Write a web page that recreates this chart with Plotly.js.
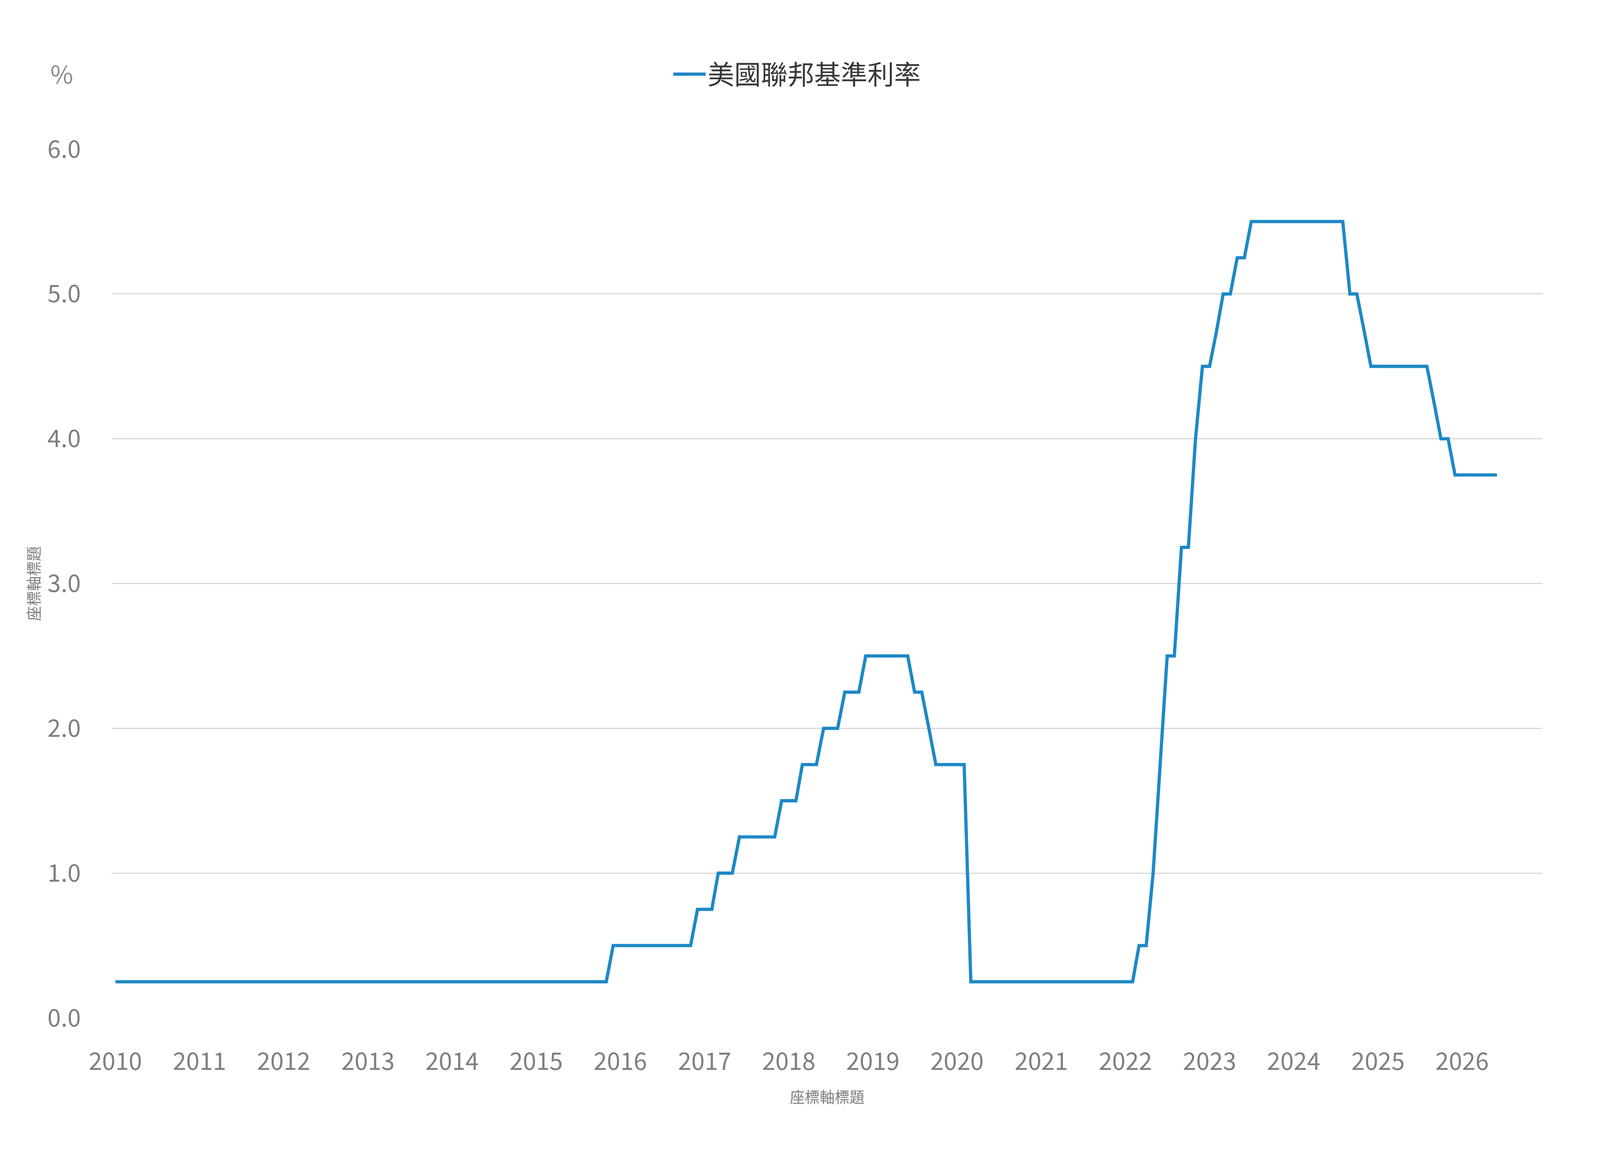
<!DOCTYPE html>
<html>
<head>
<meta charset="utf-8">
<script src="https://cdn.plot.ly/plotly-3.0.1.min.js"></script>
<style>html,body{margin:0;padding:0;background:#fff;overflow:hidden;width:100%;height:100%;}#chart{position:absolute;left:0;top:0;}</style>
</head>
<body>
<div id="chart"></div>
<script>
// Monthly end-of-month upper bound of the US federal funds target rate (%), Jan..Dec
const rate2010 = [0.25,0.25,0.25,0.25,0.25,0.25,0.25,0.25,0.25,0.25,0.25,0.25];
const rate2011 = [0.25,0.25,0.25,0.25,0.25,0.25,0.25,0.25,0.25,0.25,0.25,0.25];
const rate2012 = [0.25,0.25,0.25,0.25,0.25,0.25,0.25,0.25,0.25,0.25,0.25,0.25];
const rate2013 = [0.25,0.25,0.25,0.25,0.25,0.25,0.25,0.25,0.25,0.25,0.25,0.25];
const rate2014 = [0.25,0.25,0.25,0.25,0.25,0.25,0.25,0.25,0.25,0.25,0.25,0.25];
const rate2015 = [0.25,0.25,0.25,0.25,0.25,0.25,0.25,0.25,0.25,0.25,0.25,0.5];
const rate2016 = [0.5,0.5,0.5,0.5,0.5,0.5,0.5,0.5,0.5,0.5,0.5,0.75];
const rate2017 = [0.75,0.75,1.0,1.0,1.0,1.25,1.25,1.25,1.25,1.25,1.25,1.5];
const rate2018 = [1.5,1.5,1.75,1.75,1.75,2.0,2.0,2.0,2.25,2.25,2.25,2.5];
const rate2019 = [2.5,2.5,2.5,2.5,2.5,2.5,2.25,2.25,2.0,1.75,1.75,1.75];
const rate2020 = [1.75,1.75,0.25,0.25,0.25,0.25,0.25,0.25,0.25,0.25,0.25,0.25];
const rate2021 = [0.25,0.25,0.25,0.25,0.25,0.25,0.25,0.25,0.25,0.25,0.25,0.25];
const rate2022 = [0.25,0.25,0.5,0.5,1.0,1.75,2.5,2.5,3.25,3.25,4.0,4.5];
const rate2023 = [4.5,4.75,5.0,5.0,5.25,5.25,5.5,5.5,5.5,5.5,5.5,5.5];
const rate2024 = [5.5,5.5,5.5,5.5,5.5,5.5,5.5,5.5,5.0,5.0,4.75,4.5];
const rate2025 = [4.5,4.5,4.5,4.5,4.5,4.5,4.5,4.5,4.25,4.0,4.0,3.75];
const rate2026 = [3.75,3.75,3.75,3.75,3.75,3.75];

const years = [2010,2011,2012,2013,2014,2015,2016,2017,2018,2019,2020,2021,2022,2023,2024,2025,2026];
const yearlyRates = [rate2010,rate2011,rate2012,rate2013,rate2014,rate2015,rate2016,rate2017,rate2018,rate2019,rate2020,rate2021,rate2022,rate2023,rate2024,rate2025,rate2026];

const seriesName = '美國聯邦基準利率';
const axisTitle = '座標軸標題';
const unitLabel = '%';
const yTicks = [0,1,2,3,4,5,6];

// build month dates (categories) and values from the yearly arrays
const dates = [], values = [];
years.forEach((y, i) => {
  yearlyRates[i].forEach((v, m) => {
    dates.push(y + '-' + String(m + 1).padStart(2, '0') + '-01');
    values.push(v);
  });
});

// design size and fit to the real viewport
const W = 4925, H = 2999;
const iw = window.innerWidth || document.documentElement.clientWidth || W;
const ih = window.innerHeight || document.documentElement.clientHeight || H;
const kx = iw / W, ky = ih / H;
const kf = kx;

const FONT = '"Noto Sans CJK TC", "Noto Sans", sans-serif';
const GRAY = '#7f7f7f';

const trace = {
  x: dates, y: values, type: 'scatter', mode: 'lines', name: seriesName,
  line: {color: '#1E88C7', width: 10 * kf, shape: 'linear'},
  hoverinfo: 'x+y'
};

const layout = {
  width: iw, height: ih,
  paper_bgcolor: '#ffffff', plot_bgcolor: '#ffffff',
  margin: {l: Math.round(344 * kx), r: Math.round(177 * kx), t: Math.round(382 * ky), b: Math.round(392 * ky), autoexpand: false},
  font: {family: FONT, color: GRAY},
  showlegend: true,
  legend: {
    orientation: 'h', x: 0.479, xanchor: 'center', y: 1.0863, yanchor: 'middle',
    font: {family: FONT, size: 82 * kf, color: '#383838'},
    itemwidth: Math.max(30, Math.round(100 * kf)), bgcolor: 'rgba(0,0,0,0)'
  },
  xaxis: {
    type: 'date',
    range: ['2009-12-16', '2026-12-16'],
    tick0: '2010-01-01', dtick: 'M12', tickformat: '%Y',
    ticks: '', ticklabelstandoff: Math.round(70 * ky),
    tickfont: {family: FONT, size: 74 * kf, color: GRAY},
    showgrid: false, zeroline: false,
    showline: false,
    title: {text: axisTitle, font: {family: FONT, size: 46 * kf, color: GRAY}, standoff: Math.round(40 * ky)},
    automargin: false
  },
  yaxis: {
    range: [0, 6], tickvals: yTicks, tickformat: '.1f',
    ticks: '', ticklabelstandoff: Math.round(94 * kx),
    tickfont: {family: FONT, size: 74 * kf, color: GRAY},
    showgrid: true, gridcolor: '#d9d9d9', gridwidth: 3 * ky,
    zeroline: false, showline: false,
    title: {text: axisTitle, font: {family: FONT, size: 46 * kf, color: GRAY}, standoff: Math.round(10 * kx)},
    automargin: false
  },
  annotations: [{
    text: unitLabel, xref: 'paper', yref: 'paper', x: -0.035, y: 1.088,
    xanchor: 'center', yanchor: 'middle', showarrow: false,
    font: {family: FONT, size: 76 * kf, color: '#8c8c8c'}
  }]
};

Plotly.newPlot('chart', [trace], layout, {displayModeBar: false, staticPlot: true});
</script>
</body>
</html>
